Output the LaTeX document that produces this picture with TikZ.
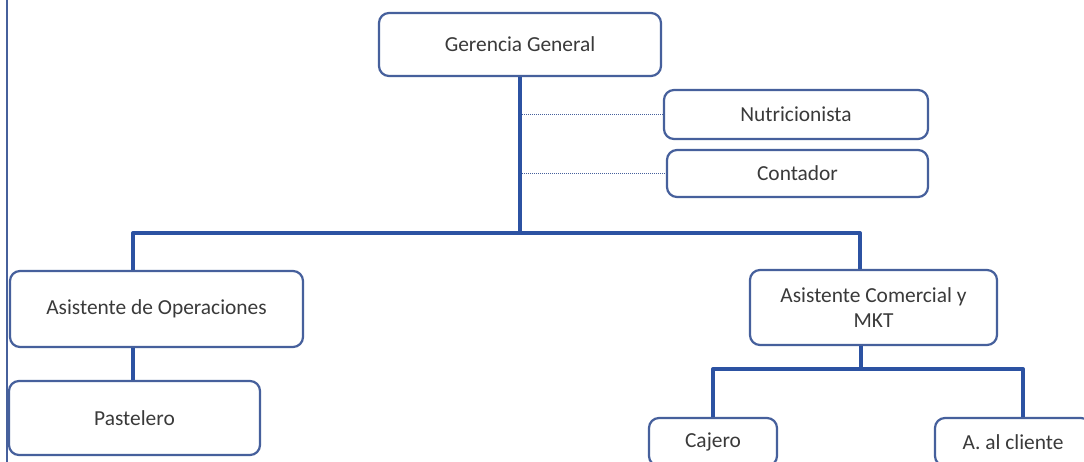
\documentclass[tikz,border=0pt]{standalone}
\usepackage{fontspec}
\setmainfont{Carlito}
\definecolor{boxblue}{RGB}{70,96,156}
\definecolor{linkblue}{RGB}{44,82,162}
\definecolor{txtgray}{RGB}{58,58,58}
\tikzset{
  orgbox/.style={draw=boxblue, line width=2.2pt, rounded corners=10pt, fill=white,
    inner sep=0pt, align=center, text=txtgray, font=\fontsize{21.4}{25}\selectfont},
  conn/.style={draw=linkblue, line width=4pt, line join=round},
  staff/.style={draw=boxblue, line width=1pt, dash pattern=on 1.2pt off 0.8pt},
}
\begin{document}
\begin{tikzpicture}[x=1pt,y=-1pt]
\useasboundingbox (0,0) rectangle (1084,462);
\clip (0,0) rectangle (1084,462);
\fill[white] (0,0) rectangle (1084,462);
% left margin line
\draw[boxblue, line width=2pt] (7,0) -- (7,462);

\node[orgbox, minimum width=282pt, minimum height=63pt] (gg) at (520,44.5) {Gerencia General};
\node[orgbox, minimum width=264pt, minimum height=49pt] (nut) at (796,114.5) {Nutricionista};
\node[orgbox, minimum width=261pt, minimum height=47pt] (con) at (797.5,173.5) {Contador};
\node[orgbox, minimum width=293pt, minimum height=76pt] (aop) at (156.5,309) {Asistente de Operaciones};
\node[orgbox, minimum width=247pt, minimum height=75pt] (acm) at (873.5,307.5) {Asistente Comercial y\\MKT};
\node[orgbox, minimum width=251pt, minimum height=74pt] (pas) at (134.5,418) {Pastelero};
\node[orgbox, minimum width=128pt, minimum height=48pt] (caj) at (713,442) {Cajero};
\node[orgbox, minimum width=156pt, minimum height=48pt] (cli) at (1013,442) {A. al cliente};

\coordinate (bar) at (520,233);
\coordinate (bl) at (133,233);
\coordinate (br) at (860,233);
\coordinate (sub) at (861,369);
\coordinate (sl) at (713,369);
\coordinate (sr) at (1023,369);

% staff dotted links
\draw[staff] (nut.west -| bar) -- (nut.west);
\draw[staff] (con.west -| bar) -- (con.west);

% main links
\draw[conn] (gg.south) -- (bar);
\draw[conn] (aop.north -| bl) -- (bl) -- (br) -- (acm.north -| br);
\draw[conn] (aop.south -| bl) -- (pas.north -| bl);
\draw[conn] (acm.south -| sub) -- (sub);
\draw[conn] (caj.north -| sl) -- (sl) -- (sr) -- (cli.north -| sr);
\end{tikzpicture}
\end{document}
